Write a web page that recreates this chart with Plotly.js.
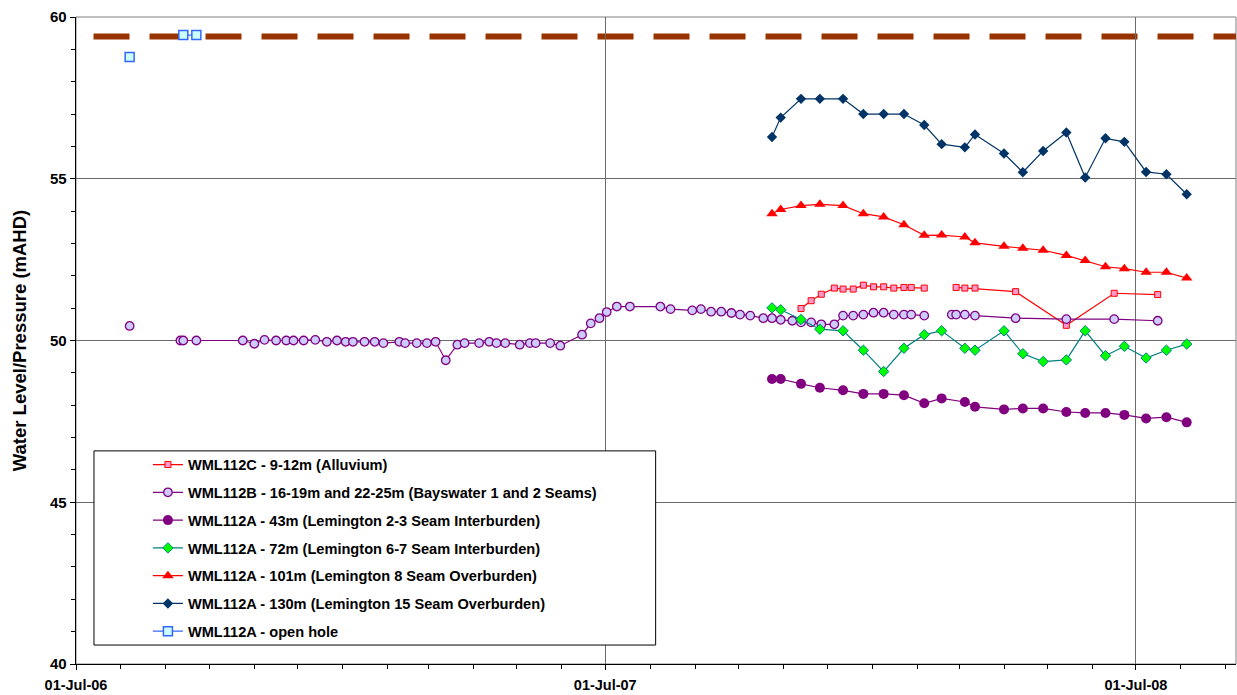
<!DOCTYPE html>
<html>
<head>
<meta charset="utf-8">
<script src="https://cdn.plot.ly/plotly-3.0.1.min.js"></script>
<style>html,body{margin:0;padding:0;background:#fff;}#chart{width:1237px;height:695px;}</style>
</head>
<body>
<div id="chart"></div>
<script>
// ---- data ----
const seriesNames = [
  'WML112C - 9-12m (Alluvium)',
  'WML112B - 16-19m and 22-25m (Bayswater 1 and 2 Seams)',
  'WML112A - 43m (Lemington 2-3 Seam Interburden)',
  'WML112A - 72m (Lemington 6-7 Seam Interburden)',
  'WML112A - 101m (Lemington 8 Seam Overburden)',
  'WML112A - 130m (Lemington 15 Seam Overburden)',
  'WML112A - open hole'
];

const datesC = ['2007-11-13','2007-11-20','2007-11-27','2007-12-06','2007-12-12','2007-12-19','2007-12-26','2008-01-02','2008-01-09','2008-01-16','2008-01-23','2008-01-28','2008-02-06','2008-02-17','2008-02-28','2008-03-05','2008-03-12','2008-04-09','2008-05-14','2008-06-16','2008-07-16'];
const levelC = [50.99,51.23,51.43,51.62,51.59,51.59,51.71,51.66,51.66,51.62,51.64,51.64,51.62,null,51.64,51.62,51.62,51.51,50.47,51.46,51.42];

const datesB = ['2006-08-07','2006-08-25','2006-09-11','2006-09-13','2006-09-22','2006-10-24','2006-11-01','2006-11-08','2006-11-16','2006-11-23','2006-11-28','2006-12-05','2006-12-13','2006-12-21','2006-12-28','2007-01-03','2007-01-08','2007-01-16','2007-01-23','2007-01-29','2007-02-09','2007-02-13','2007-02-21','2007-02-28','2007-03-06','2007-03-13','2007-03-21','2007-03-26','2007-04-05','2007-04-12','2007-04-17','2007-04-23','2007-05-03','2007-05-10','2007-05-14','2007-05-24','2007-05-31','2007-06-15','2007-06-21','2007-06-27','2007-07-02','2007-07-09','2007-07-18','2007-08-08','2007-08-15','2007-08-30','2007-09-05','2007-09-12','2007-09-19','2007-09-26','2007-10-02','2007-10-09','2007-10-18','2007-10-24','2007-10-30','2007-11-07','2007-11-13','2007-11-20','2007-11-27','2007-12-06','2007-12-12','2007-12-19','2007-12-26','2008-01-02','2008-01-09','2008-01-16','2008-01-23','2008-01-28','2008-02-06','2008-02-17','2008-02-25','2008-02-28','2008-03-05','2008-03-12','2008-04-09','2008-05-14','2008-06-16','2008-07-16'];
const levelB = [50.45,null,50.0,50.0,50.0,50.0,49.9,50.02,50.0,50.0,50.0,50.0,50.02,49.96,50.0,49.96,49.96,49.96,49.96,49.92,49.96,49.92,49.92,49.92,49.96,49.39,49.87,49.92,49.92,49.96,49.92,49.92,49.87,49.92,49.92,49.92,49.84,50.18,50.53,50.69,50.88,51.05,51.05,51.05,50.97,50.93,50.97,50.89,50.89,50.85,50.80,50.77,50.69,50.69,50.64,50.61,50.56,50.56,50.50,50.50,50.77,50.77,50.80,50.86,50.86,50.80,50.80,50.80,50.77,null,50.80,50.80,50.80,50.77,50.69,50.66,50.66,50.61];

const datesA = ['2007-10-24','2007-10-30','2007-11-13','2007-11-26','2007-12-12','2007-12-26','2008-01-09','2008-01-23','2008-02-06','2008-02-18','2008-03-05','2008-03-12','2008-04-01','2008-04-14','2008-04-28','2008-05-14','2008-05-27','2008-06-10','2008-06-23','2008-07-08','2008-07-22','2008-08-05'];
const level43 = [48.81,48.81,48.66,48.54,48.46,48.35,48.35,48.31,48.06,48.21,48.10,47.95,47.87,47.90,47.90,47.79,47.76,47.76,47.70,47.59,47.63,47.47];
const level72 = [51.01,50.95,50.65,50.35,50.30,49.70,49.04,49.76,50.18,50.30,49.76,49.70,50.30,49.59,49.35,49.40,50.30,49.53,49.82,49.46,49.70,49.89];
const level101 = [53.92,54.05,54.17,54.21,54.17,53.92,53.82,53.58,53.25,53.26,53.20,53.02,52.91,52.85,52.79,52.63,52.47,52.28,52.22,52.11,52.11,51.93];
const level130 = [56.29,56.89,57.47,57.47,57.47,57.00,57.00,57.00,56.66,56.07,55.97,56.37,55.78,55.20,55.86,56.43,55.04,56.25,56.14,55.21,55.14,54.52];

const datesOpen = ['2006-08-07','2006-08-25','2006-09-13','2006-09-22'];
const levelOpen = [58.76,null,59.44,59.44];

const referenceLevel = 59.4;
const xStart = '2006-07-01';
const xEnd = '2008-09-08';
const yTitle = 'Water Level/Pressure (mAHD)';

// ---- traces ----
const FONT = 'Liberation Sans, Arial, sans-serif';
function tr(name, x, y, lineColor, marker, grp) {
  return {type:'scatter', mode:'lines+markers', name:name, x:x, y:y, connectgaps:false,
    legendgroup:grp, line:{color:lineColor, width:1.2}, marker:marker, cliponaxis:false};
}
const traces = [
  tr(seriesNames[0], datesC, levelC, '#FF0000', {symbol:'square', size:6, color:'#FF99CC', line:{color:'#FF0000', width:1}}, 'g0'),
  tr(seriesNames[1], datesB, levelB, '#800080', {symbol:'circle', size:8.5, color:'#CCCCFF', line:{color:'#800080', width:1.3}}, 'g1'),
  tr(seriesNames[2], datesA, level43, '#800080', {symbol:'circle', size:10, color:'#800080', line:{color:'#800080', width:0}}, 'g2'),
  tr(seriesNames[3], datesA, level72, '#008080', {symbol:'diamond', size:8, color:'#00FF00', line:{color:'#008080', width:1}}, 'g3'),
  tr(seriesNames[4], datesA, level101, '#FF0000', {symbol:'triangle-up', size:10, color:'#FF0000', line:{color:'#FF0000', width:0}}, 'g4'),
  tr(seriesNames[5], datesA, level130, '#003366', {symbol:'diamond', size:8, color:'#003366', line:{color:'#003366', width:0}}, 'g5'),
  tr(seriesNames[6], datesOpen, levelOpen, '#3366FF', {symbol:'square', size:9, color:'#CCFFFF', line:{color:'#3366FF', width:1.5}}, 'g6')
];

const layout = {
  width:1237, height:695,
  margin:{l:76, r:1, t:17, b:31},
  paper_bgcolor:'#ffffff', plot_bgcolor:'#ffffff',
  font:{family:FONT, color:'#000'},
  showlegend:true,
  legend:{x:0.062, y:0.333, xanchor:'left', yanchor:'top', bgcolor:'rgba(0,0,0,0)', borderwidth:0,
    traceorder:'grouped', tracegroupgap:5.8, font:{family:FONT, size:14.6, weight:'bold', color:'#000'}},
  xaxis:{type:'date', range:[xStart, xEnd], tick0:'2006-07-01', dtick:'M12', tickformat:'%d-%b-%y',
    ticks:'outside', ticklen:5, tickcolor:'#000', showline:true, linecolor:'#000', linewidth:1.3,
    showgrid:true, gridcolor:'#6b6b6b', gridwidth:1, zeroline:false, ticklabelstandoff:2,
    tickfont:{family:FONT, size:14.5, weight:'bold', color:'#000'},
    minor:{dtick:'M1', tick0:'2006-07-01', ticks:'outside', ticklen:4, tickcolor:'#000', showgrid:false}},
  yaxis:{range:[40,60], dtick:5, ticks:'outside', ticklen:5, tickcolor:'#000', showline:true, linecolor:'#000', linewidth:1.3,
    showgrid:true, gridcolor:'#6b6b6b', gridwidth:1, zeroline:false,
    tickfont:{family:FONT, size:15, weight:'bold', color:'#000'},
    minor:{dtick:1, ticks:'outside', ticklen:4, tickcolor:'#000', showgrid:false},
    title:{text:yTitle, standoff:18, font:{family:FONT, size:18.5, weight:'bold', color:'#000'}}},
  shapes:[
    {type:'rect', xref:'paper', yref:'paper', x0:0, x1:1, y0:0, y1:1, line:{color:'#808080', width:1}, layer:'below'},
    {type:'line', xref:'paper', yref:'y', x0:0.0151, x1:1, y0:referenceLevel, y1:referenceLevel,
      line:{color:'#993300', width:6, dash:'36px,20px'}, layer:'below'},
    {type:'rect', xref:'paper', yref:'paper', x0:0.0155, x1:0.4997, y0:0.0293, y1:0.3294,
      fillcolor:'#ffffff', line:{color:'#000000', width:1}, layer:'above'}
  ]
};

Plotly.newPlot('chart', traces, layout, {displayModeBar:false, staticPlot:true});
</script>
</body>
</html>
